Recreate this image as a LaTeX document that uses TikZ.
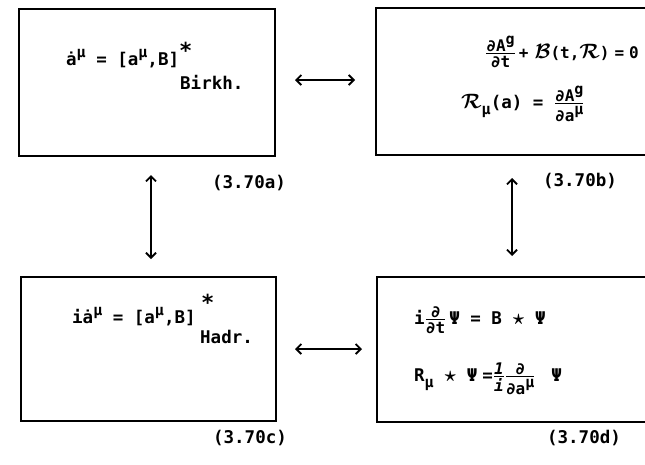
\documentclass[tikz,border=0pt]{standalone}
\usepackage{fontspec}
\usepackage{amsmath}
\usetikzlibrary{arrows.meta}
\newfontfamily\tw{DejaVu Sans Mono Bold}
\newcommand\up[1]{\raisebox{0.45em}{\fontsize{15}{15}\selectfont #1}}
\newcommand\dn[1]{\raisebox{-0.35em}{\fontsize{15}{15}\selectfont #1}}
\newcommand\fr[2]{$\genfrac{}{}{1.5pt}{}{\hbox{\tw\fontsize{16}{16}\selectfont #1}}{\hbox{\tw\fontsize{16}{16}\selectfont #2}}$}
\newcommand\cB{{\fontsize{21}{21}\selectfont$\boldsymbol{\mathcal{B}}$}}
\newcommand\cR{{\fontsize{21}{21}\selectfont$\boldsymbol{\mathcal{R}}$}}
\newcommand\mystar{{\fontsize{22}{22}\selectfont$\boldsymbol{\star}$}}
\newcommand\bigast{\raisebox{0.35em}{\fontsize{22}{22}\selectfont *}}
\tikzset{
  box/.style={draw, line width=2pt, anchor=north west, inner sep=0pt},
  eq/.style={anchor=base west, inner sep=0pt, font=\tw\fontsize{17.5}{20}\selectfont},
  lab/.style={inner sep=0pt, font=\tw\fontsize{17.5}{20}\selectfont},
  arr/.style={line width=1.8pt, {Straight Barb[length=5pt,width=10pt]}-{Straight Barb[length=5pt,width=10pt]}}
}
\begin{document}
\begin{tikzpicture}[x=1pt,y=-1pt]
\useasboundingbox (0,0) rectangle (645,464);
\clip (0,0) rectangle (645,464);
% boxes
\node[box, minimum width=256pt, minimum height=147pt] (A) at (18,8) {};
\node[box, minimum width=285pt, minimum height=147pt] (B) at (375,7) {};
\node[box, minimum width=255pt, minimum height=144pt] (C) at (20,276) {};
\node[box, minimum width=285pt, minimum height=145pt] (D) at (376,276) {};
% box A
\node[eq] (a1) at (66,65) {ȧ\up{μ} = [a\up{μ},B]\bigast};
\node[eq] (a2) at (180,89) {Birkh.};
% box B
\node[eq, font=\tw\fontsize{16}{19}\selectfont] (b1) at (485,58) {\fr{∂A\up{g}}{∂t}\hspace{3pt}+\hspace{6pt}\cB(t,\cR)\hspace{5pt}=\hspace{5pt}0};
\node[eq] (b2) at (461,108) {\cR\dn{μ}(a) = \fr{∂A\up{g}}{∂a\up{μ}}};
% box C
\node[eq] (c1) at (72,323) {iȧ\up{μ} = [a\up{μ},B]};
\node[eq, font=\tw\fontsize{22}{22}\selectfont] (c2) at (201,310) {*};
\node[eq] (c3) at (200,343) {Hadr.};
% box D
\node[eq] (d1) at (414,324) {i\fr{∂}{∂t}\,Ψ = B \mystar{} Ψ};
\node[eq] (d2) at (414,381) {R\dn{μ} \mystar{} Ψ\hspace{5pt}=\fr{\itshape 1}{\itshape i}\fr{∂}{∂a\up{μ}}\hspace{0.9em}Ψ};
% labels
\node[lab] (la) at (249,183) {(3.70a)};
\node[lab] (lb) at (580,181) {(3.70b)};
\node[lab] (lc) at (250,438) {(3.70c)};
\node[lab] (ld) at (584,438) {(3.70d)};
% arrows
\coordinate (h1l) at (295,80);
\coordinate (h1r) at (355,80);
\coordinate (h2l) at (295,349);
\coordinate (h2r) at (362,349);
\coordinate (v1t) at (151,175);
\coordinate (v1b) at (151,259);
\coordinate (v2t) at (512,178);
\coordinate (v2b) at (512,256);
\draw[arr] (h1l) -- (h1r);
\draw[arr] (h2l) -- (h2r);
\draw[arr] (v1t) -- (v1b);
\draw[arr] (v2t) -- (v2b);
\end{tikzpicture}
\end{document}
